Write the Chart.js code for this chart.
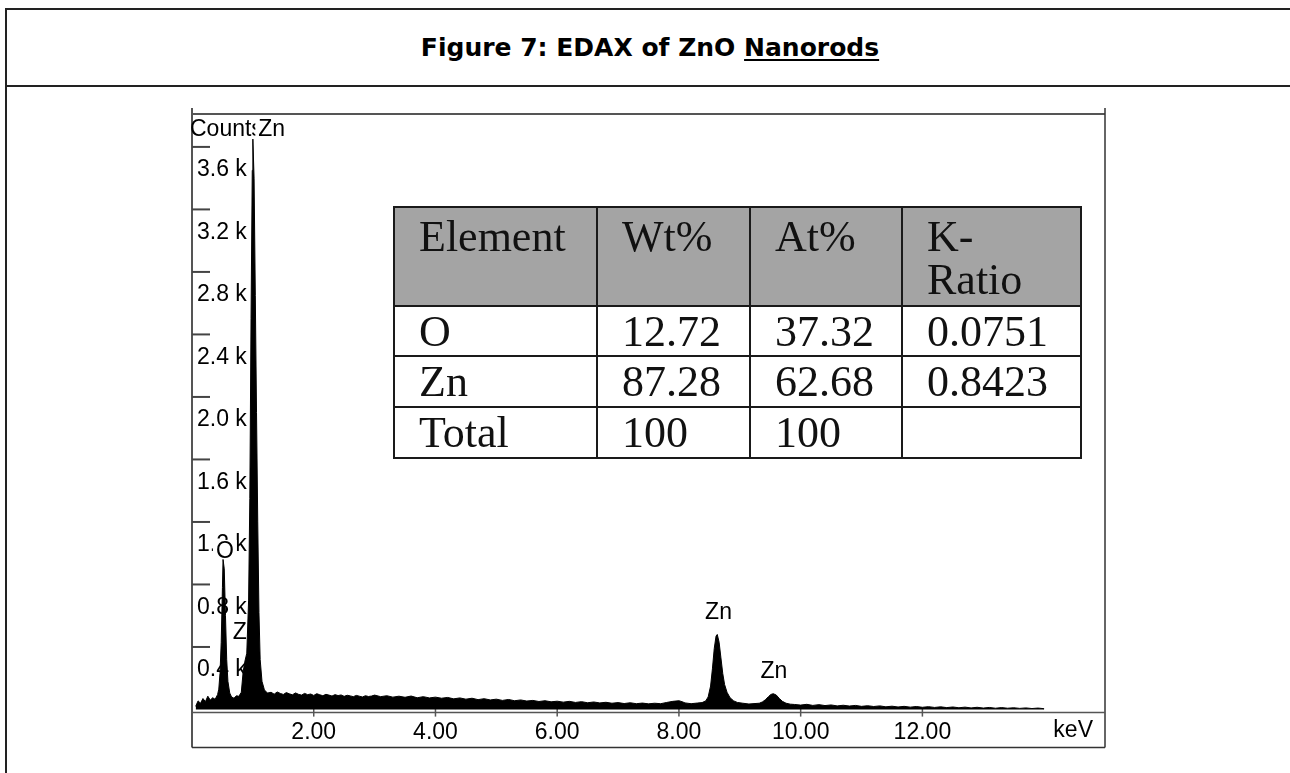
<!DOCTYPE html>
<html>
<head>
<meta charset="utf-8">
<script src="https://cdn.jsdelivr.net/npm/chart.js@4.4.1/dist/chart.umd.min.js"></script>
<style>
  html, body { margin:0; padding:0; background:#fff; }
  body { width:1290px; height:773px; overflow:hidden; position:relative; }
  .ln { position:absolute; background:#222; }
  #title { position:absolute; left:5px; width:1290px; top:33px; text-align:center;
           font: bold 25px "DejaVu Sans", Verdana, sans-serif; line-height:30px; color:#000; }
  #title u { text-decoration-thickness:2px; text-underline-offset:3px; }
  canvas { position:absolute; left:0; top:0; }
  #tbl { position:absolute; left:393px; top:206px; border-collapse:collapse; table-layout:fixed;
         font-family:"Liberation Serif","Times New Roman",serif; font-size:44px; color:#111; }
  #tbl td { border:2px solid #1a1a1a; padding:0 0 0 24px; line-height:43px; vertical-align:middle; white-space:nowrap; }
  #tbl tr.head td { background:#a4a4a4; vertical-align:top; padding-top:7px; }
</style>
</head>
<body>
<div class="ln" style="left:5px;top:8px;width:1285px;height:2px"></div>
<div class="ln" style="left:5px;top:8px;width:2px;height:765px"></div>
<div class="ln" style="left:5px;top:85px;width:1285px;height:2px"></div>
<div id="title">Figure 7: EDAX of ZnO <u>Nanorods</u></div>
<canvas id="c" width="1290" height="773"></canvas>
<table id="tbl"></table>
<script>
// ---------- data ----------
const X_TICKS = [2, 4, 6, 8, 10, 12];
const X_TICK_LABELS = ['2.00', '4.00', '6.00', '8.00', '10.00', '12.00'];
const Y_TICKS = [400, 800, 1200, 1600, 2000, 2400, 2800, 3200, 3600];
const Y_TICK_LABELS = ['0.4 k', '0.8 k', '1.2 k', '1.6 k', '2.0 k', '2.4 k', '2.8 k', '3.2 k', '3.6 k'];
const X_UNIT = 'keV';
const Y_TITLE = 'Counts';

const E_KEV = [
  0.06, 0.10, 0.14, 0.18, 0.22, 0.26, 0.30, 0.34, 0.38, 0.42,
  0.44, 0.46, 0.48, 0.50, 0.51, 0.53, 0.55, 0.57, 0.59, 0.62, 0.65, 0.69, 0.73, 0.77, 0.81,
  0.84, 0.87, 0.90, 0.93, 0.95, 0.97, 0.99, 1.00, 1.02, 1.04, 1.06, 1.08, 1.10, 1.12, 1.15, 1.19, 1.24,
  1.3, 1.35, 1.4, 1.45, 1.5, 1.55, 1.6, 1.65, 1.7, 1.75, 1.8, 1.85, 1.9, 1.95, 2.0, 2.05, 2.1, 2.15,
  2.2, 2.25, 2.3, 2.35, 2.4, 2.45, 2.5, 2.55, 2.6, 2.65, 2.7, 2.75, 2.8, 2.85, 2.9, 2.95,
  3.0, 3.1, 3.2, 3.3, 3.4, 3.5, 3.6, 3.7, 3.8, 3.9, 4.0, 4.1, 4.2, 4.3, 4.4, 4.5, 4.6, 4.7, 4.8, 4.9,
  5.0, 5.1, 5.2, 5.3, 5.4, 5.5, 5.6, 5.7, 5.8, 5.9, 6.0, 6.1, 6.2, 6.3, 6.4, 6.5, 6.6, 6.7, 6.8, 6.9,
  7.0, 7.1, 7.2, 7.3, 7.4, 7.5, 7.6, 7.7, 7.8, 7.9, 8.0, 8.05, 8.1, 8.2, 8.3, 8.38,
  8.44, 8.48, 8.52, 8.55, 8.58, 8.61, 8.63, 8.66, 8.69, 8.72, 8.75, 8.79, 8.84, 8.90, 8.96, 9.05, 9.15, 9.25, 9.32,
  9.37, 9.42, 9.47, 9.51, 9.55, 9.60, 9.65, 9.70, 9.76, 9.83,
  9.9, 10.0, 10.1, 10.2, 10.3, 10.4, 10.5, 10.6, 10.7, 10.8, 10.9, 11.0, 11.1, 11.2, 11.3, 11.4, 11.5,
  11.6, 11.7, 11.8, 11.9, 12.0, 12.1, 12.2, 12.3, 12.4, 12.5, 12.6, 12.7, 12.8, 12.9, 13.0, 13.1, 13.2,
  13.3, 13.4, 13.5, 13.6, 13.7, 13.8, 13.9, 14.0
];
const COUNTS = [
  20, 55, 40, 70, 50, 85, 60, 75, 65, 95,
  130, 230, 430, 780, 960, 900, 600, 320, 180, 105, 80, 72, 88, 84, 110,
  240, 310, 360, 700, 1350, 2500, 3450, 3650, 3400, 2650, 1900, 1200, 620, 320, 180, 125, 105,
  110, 98, 112, 103, 96, 108, 100, 94, 106, 97, 92, 103, 95, 99, 90, 101, 94, 88,
  97, 92, 86, 95, 89, 93, 84, 91, 87, 82, 90, 85, 80, 88, 83, 86,
  92, 82, 88, 79, 85, 78, 86, 75, 82, 74, 79, 72, 77, 68, 74, 66, 72, 63, 69, 61,
  66, 58, 64, 56, 61, 54, 58, 51, 56, 49, 53, 47, 52, 45, 50, 43, 48, 42, 46, 40,
  44, 38, 43, 37, 41, 36, 40, 37, 45, 52, 56, 50, 42, 37, 41, 44,
  55, 80, 150, 260, 390, 470, 480, 430, 330, 230, 160, 110, 75, 55, 45, 40, 35, 38, 40,
  48, 62, 82, 96, 101, 92, 70, 52, 40, 34,
  32, 28, 33, 26, 31, 25, 29, 23, 27, 22, 26, 20, 24, 19, 23, 17, 21,
  16, 20, 15, 19, 14, 18, 13, 17, 12, 16, 11, 15, 10, 14, 9, 13, 8,
  12, 8, 11, 7, 10, 6, 9, 5
];

const LABEL_TEXT   = ['O', 'Zn', 'Zn', 'Zn', 'Zn'];
const LABEL_KEV    = [0.54, 1.31, 0.89, 8.65, 9.56];
const LABEL_COUNTS = [1008, 3708, 490, 619, 240];

const TABLE_HEAD = ['Element', 'Wt%', 'At%', 'K-\nRatio'];
const TABLE_ELEMENT = ['O', 'Zn', 'Total'];
const TABLE_WT = ['12.72', '87.28', '100'];
const TABLE_AT = ['37.32', '62.68', '100'];
const TABLE_K  = ['0.0751', '0.8423', ''];

// ---------- table ----------
(function buildTable(){
  const t = document.getElementById('tbl');
  const widths = [203, 153, 152, 179];
  const cg = document.createElement('colgroup');
  widths.forEach(w => { const c = document.createElement('col'); c.style.width = w + 'px'; cg.appendChild(c); });
  t.appendChild(cg);
  t.style.width = widths.reduce((a,b)=>a+b,0) + 'px';
  const hr = document.createElement('tr'); hr.className = 'head'; hr.style.height = '99px';
  TABLE_HEAD.forEach(h => {
    const td = document.createElement('td');
    h.split('\n').forEach((p, i) => { if (i) td.appendChild(document.createElement('br')); td.appendChild(document.createTextNode(p)); });
    hr.appendChild(td);
  });
  t.appendChild(hr);
  const rh = [50, 51, 51];
  TABLE_ELEMENT.forEach((el, i) => {
    const tr = document.createElement('tr'); tr.style.height = rh[i] + 'px';
    [el, TABLE_WT[i], TABLE_AT[i], TABLE_K[i]].forEach(v => {
      const td = document.createElement('td'); td.textContent = v; tr.appendChild(td);
    });
    t.appendChild(tr);
  });
})();

// ---------- chart ----------
const FONT = 'Liberation Sans, Arial, sans-serif';
const FS = 23;
Chart.defaults.font.family = FONT;
Chart.defaults.color = '#000';

function seg(ctx, x1, y1, x2, y2) { ctx.beginPath(); ctx.moveTo(x1, y1); ctx.lineTo(x2, y2); ctx.stroke(); }

const decor = {
  id: 'decor',
  beforeDraw(chart) {
    const { ctx, chartArea: a, scales } = chart;
    const bottom = scales.x.bottom;
    ctx.save();
    ctx.strokeStyle = '#555';
    ctx.lineWidth = 2;
    seg(ctx, a.left, a.top - 5, a.left, bottom);
    seg(ctx, a.left, a.top + 1, a.right, a.top + 1);
    ctx.lineWidth = 1.5;
    ctx.strokeStyle = '#333';
    seg(ctx, a.right, a.top - 5, a.right, bottom);
    seg(ctx, a.left, bottom, a.right, bottom);
    ctx.restore();
  },
  beforeDatasetsDraw(chart) {
    const { ctx, chartArea: a, scales } = chart;
    const xs = scales.x, ys = scales.y;
    ctx.save();
    ctx.strokeStyle = '#555'; ctx.lineWidth = 1.5;
    seg(ctx, a.left, a.bottom, a.right, a.bottom);
    xs.ticks.forEach(t => { const px = xs.getPixelForValue(t.value); seg(ctx, px, a.bottom - 4, px, a.bottom + 4); });
    ctx.strokeStyle = '#444'; ctx.lineWidth = 2;
    ys.ticks.forEach(t => { const py = ys.getPixelForValue(t.value); seg(ctx, a.left, py, a.left + 18, py); });
    ctx.font = FS + 'px ' + FONT;
    ctx.textBaseline = 'middle';
    ctx.fillStyle = '#000';
    ctx.textAlign = 'left';
    ctx.fillText(Y_TITLE, a.left - 2, ys.getPixelForValue(LABEL_COUNTS[1]));
    ctx.textAlign = 'center';
    LABEL_TEXT.forEach((txt, i) => {
      const px = xs.getPixelForValue(LABEL_KEV[i]);
      const py = ys.getPixelForValue(LABEL_COUNTS[i]);
      const w = ctx.measureText(txt).width;
      ctx.fillStyle = '#fff';
      ctx.fillRect(px - w / 2 - 3, py - 12, w + 6, 24);
      ctx.fillStyle = '#000';
      ctx.fillText(txt, px, py);
    });
    ctx.textAlign = 'right';
    ctx.fillText(X_UNIT, a.right - 12, a.bottom + 18);
    ctx.restore();
  }
};

new Chart(document.getElementById('c'), {
  type: 'line',
  data: {
    datasets: [{
      data: E_KEV.map((x, i) => ({ x, y: COUNTS[i] })),
      borderColor: '#000',
      backgroundColor: '#000',
      borderWidth: 1,
      pointRadius: 0,
      fill: 'origin',
      tension: 0
    }]
  },
  options: {
    responsive: false,
    animation: false,
    events: [],
    layout: { padding: { left: 192, top: 113, right: 185, bottom: 25.4 } },
    plugins: { legend: { display: false }, tooltip: { enabled: false }, title: { display: false } },
    scales: {
      x: {
        type: 'linear', min: 0, max: 15,
        afterBuildTicks: s => { s.ticks = X_TICKS.map(v => ({ value: v })); },
        afterFit: s => { s.height = 35; s.paddingLeft = 0; s.paddingRight = 0; },
        grid: { display: false },
        border: { display: false },
        ticks: {
          autoSkip: false, maxRotation: 0, padding: -2,
          font: { size: FS, family: FONT }, color: '#000',
          callback: (v, i) => X_TICK_LABELS[i]
        }
      },
      y: {
        type: 'linear', min: -20, max: 3817,
        afterBuildTicks: s => { s.ticks = Y_TICKS.map(v => ({ value: v })); },
        afterFit: s => { s.width = 0; s.paddingTop = 0; s.paddingBottom = 0; },
        grid: { display: false },
        border: { display: false },
        ticks: {
          mirror: true, padding: 5, labelOffset: 23, autoSkip: false,
          font: { size: FS, family: FONT }, color: '#000',
          callback: (v, i) => Y_TICK_LABELS[i]
        }
      }
    }
  },
  plugins: [decor]
});
</script>
</body>
</html>
